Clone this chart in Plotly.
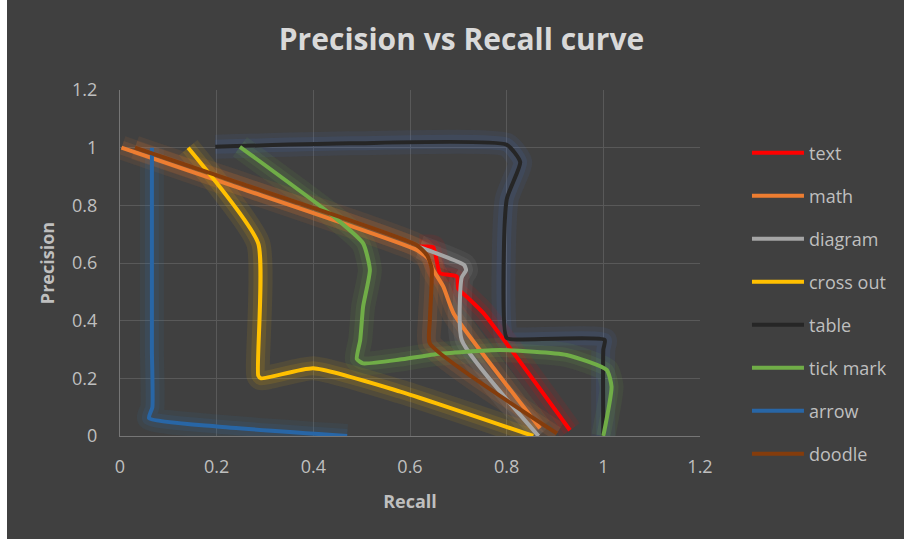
import plotly.graph_objects as go

# ---------------- data ----------------
series_names = ["text", "math", "diagram", "cross out", "table", "tick mark", "arrow", "doodle"]

text_recall = [0.620, 0.648, 0.655, 0.662, 0.697, 0.700, 0.718, 0.752, 0.931]
text_precision = [0.657, 0.655, 0.610, 0.565, 0.553, 0.510, 0.482, 0.426, 0.020]

math_recall = [0.003, 0.228, 0.614, 0.638, 0.648, 0.669, 0.690, 0.869]
math_precision = [1.000, 0.871, 0.645, 0.615, 0.576, 0.518, 0.426, 0.027]

diagram_recall = [0.620, 0.712, 0.716, 0.707, 0.707, 0.866]
diagram_precision = [0.655, 0.593, 0.575, 0.550, 0.333, 0.000]

crossout_recall = [0.141, 0.286, 0.286, 0.292, 0.400, 0.580, 0.855]
crossout_precision = [1.000, 0.668, 0.210, 0.200, 0.235, 0.154, 0.000]

table_recall = [0.197, 0.476, 0.800, 0.828, 0.800, 0.800, 0.830, 1.003, 1.000, 1.000]
table_precision = [1.003, 1.015, 1.010, 0.950, 0.820, 0.340, 0.335, 0.333, 0.300, 0.000]

tick_recall = [0.248, 0.434, 0.503, 0.517, 0.503, 0.497, 0.490, 0.503, 0.579, 0.650, 0.786, 0.924, 1.007, 1.017, 1.000]
tick_precision = [1.003, 0.772, 0.668, 0.576, 0.449, 0.333, 0.267, 0.252, 0.265, 0.283, 0.298, 0.281, 0.229, 0.171, 0.000]

arrow_recall = [0.066, 0.066, 0.067, 0.060, 0.200, 0.470]
arrow_precision = [1.000, 0.300, 0.100, 0.062, 0.033, 0.000]

doodle_recall = [0.031, 0.228, 0.614, 0.636, 0.645, 0.641, 0.641, 0.904]
doodle_precision = [1.000, 0.888, 0.662, 0.625, 0.580, 0.400, 0.321, 0.009]

x_ticks = [0, 0.2, 0.4, 0.6, 0.8, 1, 1.2]
tick_labels = ["0", "0.2", "0.4", "0.6", "0.8", "1", "1.2"]

# ---------------- styling ----------------
line_colors = ["#FF0000", "#ED7D31", "#A5A5A5", "#FFC000", "#262626", "#70AD47", "#2866A6", "#843C0C"]
glow_colors = ["255,0,0", "237,125,49", "165,165,165", "255,192,0", "68,114,196", "112,173,71", "46,117,182", "237,125,49"]

data = [
    (text_recall, text_precision),
    (math_recall, math_precision),
    (diagram_recall, diagram_precision),
    (crossout_recall, crossout_precision),
    (table_recall, table_precision),
    (tick_recall, tick_precision),
    (arrow_recall, arrow_precision),
    (doodle_recall, doodle_precision),
]

BG = "#404040"
FONT = "Open Sans"

fig = go.Figure()

# glow layers
for (xs, ys), gc in zip(data, glow_colors):
    for w, a in [(24, 0.09), (14, 0.12)]:
        fig.add_trace(go.Scatter(
            x=xs, y=ys, mode="lines",
            line=dict(color=f"rgba({gc},{a})", width=w, shape="spline", smoothing=0.5),
            showlegend=False, hoverinfo="skip"))

# main lines
for i, ((xs, ys), name, c) in enumerate(zip(data, series_names, line_colors)):
    fig.add_trace(go.Scatter(
        x=xs, y=ys, mode="lines", name=name, legendgroup=f"g{i}",
        line=dict(color=c, width=4, shape="spline", smoothing=0.5)))

axis_common = dict(
    range=[0, 1.2], showgrid=True, gridcolor="#595959", gridwidth=1,
    zeroline=False, showline=True, linecolor="#767676", linewidth=1,
    ticks="", tickfont=dict(family=FONT, size=18, color="#BFBFBF"),
    tickvals=x_ticks, ticktext=tick_labels,
)

fig.update_layout(
    width=904, height=539,
    paper_bgcolor=BG, plot_bgcolor=BG,
    margin=dict(l=120, r=204, t=90, b=103),
    title=dict(text="<b>Precision vs Recall curve</b>", x=461.5 / 904, xref="container", xanchor="center",
               y=1 - 39 / 539, yref="container", yanchor="middle",
               font=dict(family=FONT, size=30, color="#D9D9D9")),
    xaxis=dict(**axis_common,
               title=dict(text="<b>Recall</b>", standoff=18,
                          font=dict(family=FONT, size=18, color="#BFBFBF")),
               ticklabelstandoff=14),
    yaxis=dict(**axis_common,
               title=dict(text="<b>Precision</b>", standoff=12,
                          font=dict(family=FONT, size=18, color="#BFBFBF")),
               ticklabelstandoff=18),
    legend=dict(x=1.081, xanchor="left", y=0.871, yanchor="top",
                font=dict(family=FONT, size=18, color="#BFBFBF"),
                tracegroupgap=16.6, itemwidth=52, bgcolor="rgba(0,0,0,0)"),
    shapes=[dict(type="rect", xref="paper", yref="paper",
                 x0=-0.25, x1=-113 / 580, y0=-0.4, y1=1.4,
                 fillcolor="white", line=dict(width=0), layer="above")],
)

fig.write_html("out.html", config={"displayModeBar": False},
               post_script="document.body.style.margin='0';document.body.style.overflow='hidden';")
